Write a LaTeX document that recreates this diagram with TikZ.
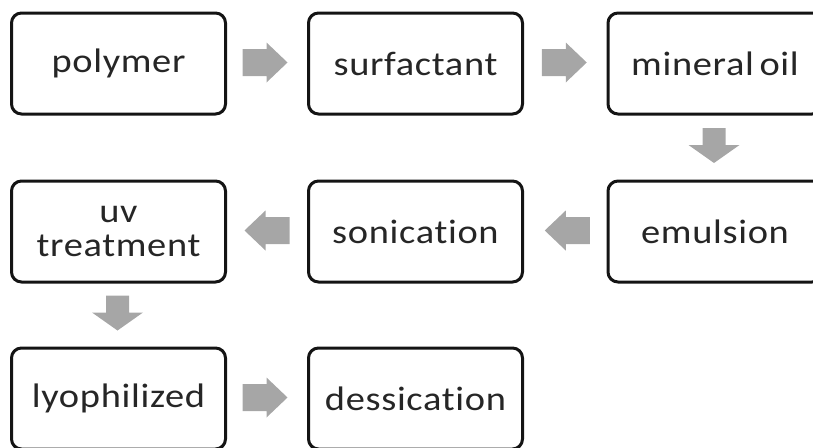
\documentclass[tikz,border=0pt]{standalone}
\usepackage{fontspec}
\setmainfont{Carlito}[FakeStretch=1.13, Ligatures=NoCommon, LetterSpace=2]
\usetikzlibrary{calc}
\definecolor{boxline}{HTML}{141414}
\definecolor{arrowfill}{HTML}{A6A6A6}
\definecolor{labeltext}{HTML}{262626}
\tikzset{
  stepbox/.style={draw=boxline, line width=3pt, rounded corners=10pt, fill=white,
    minimum width=214pt, minimum height=101pt, inner sep=0pt, align=center,
    text=labeltext, font=\fontsize{34}{34}\selectfont},
  % horizontal block arrow, drawn pointing right around its centre
  pics/hblock/.style={code={
    \fill[arrowfill] (-22.5,-13.5) -- (1.5,-13.5) -- (1.5,-20) -- (22.5,0)
      -- (1.5,20) -- (1.5,13.5) -- (-22.5,13.5) -- cycle;}},
  % vertical block arrow, drawn pointing down around its centre
  pics/vblock/.style={code={
    \fill[arrowfill] (-11.5,-17.5) -- (11.5,-17.5) -- (11.5,-0.5) -- (25.5,-0.5)
      -- (0,17.5) -- (-25.5,-0.5) -- (-11.5,-0.5) -- cycle;}},
}
\begin{document}
\begin{tikzpicture}[x=1pt, y=-1pt]
  \useasboundingbox (0,0) rectangle (813,447);
  \clip (0,0) rectangle (813,447);

  % process steps
  \node[stepbox] (polymer)    at (118.5,63.5)  {polymer};
  \node[stepbox] (surfactant) at (415.5,63.5)  {surfactant};
  \node[stepbox] (mineral)    at (715,63.5)    {mineral\,oil};
  \node[stepbox] (emulsion)   at (715,231.5)   {emulsion};
  \node[stepbox] (sonication) at (415.5,231.5) {sonication};
  \node[stepbox] (uv)         at (118.5,231.5) {uv\\treatment};
  \node[stepbox] (lyo)        at (118.5,398.5) {lyophilized};
  \node[stepbox] (dess)       at (415.5,398.5) {dessication};

  % block arrows between consecutive steps
  \coordinate (a1) at ($(polymer.east)!0.5!(surfactant.west)+(-2,-1)$);
  \coordinate (a2) at ($(surfactant.east)!0.5!(mineral.west)+(-1,-1)$);
  \coordinate (a3) at ($(mineral.south)!0.5!(emulsion.north)+(-1,-2)$);
  \coordinate (a4) at ($(emulsion.west)!0.5!(sonication.east)+(2,-1)$);
  \coordinate (a5) at ($(sonication.west)!0.5!(uv.east)+(0,-1)$);
  \coordinate (a6) at ($(uv.south)!0.5!(lyo.north)+(-1,-2)$);
  \coordinate (a7) at ($(lyo.east)!0.5!(dess.west)+(-2,-1)$);

  \pic at (a1) {hblock};
  \pic at (a2) {hblock};
  \pic at (a3) {vblock};
  \pic[xscale=-1] at (a4) {hblock};
  \pic[xscale=-1] at (a5) {hblock};
  \pic at (a6) {vblock};
  \pic at (a7) {hblock};
\end{tikzpicture}
\end{document}
